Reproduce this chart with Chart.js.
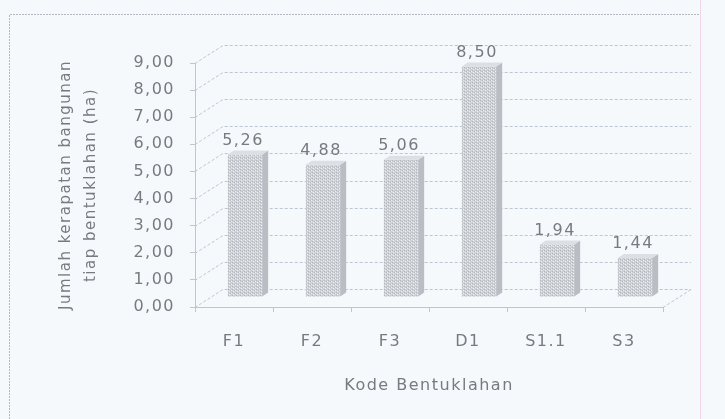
<!DOCTYPE html>
<html>
<head>
<meta charset="utf-8">
<script src="https://cdn.jsdelivr.net/npm/chart.js@4"></script>
<style>
  html, body { margin: 0; padding: 0; background: #f6f9fc; }
  canvas { display: block; }
</style>
</head>
<body>
<canvas id="grafik" width="725" height="419"></canvas>
<script>
const kodeBentuklahan = ['F1', 'F2', 'F3', 'D1', 'S1.1', 'S3'];
const kerapatan = [5.26, 4.88, 5.06, 8.50, 1.94, 1.44];
const judulY = ['Jumlah kerapatan bangunan', 'tiap bentuklahan (ha)'];
const judulX = 'Kode Bentuklahan';
const yMin = 0, yMax = 9, yStep = 1;

const warnaTeks = '#767b81';
const warnaGaris = '#bcc7d2';
// efek 3D: geser dinding belakang, batang, dan sisi batang
const dinding = { dx: 28, dy: -18 };
const geserBatang = { dx: 11, dy: -10 };
const sisi = { dx: 6, dy: -4 };

Chart.defaults.font.family = '"DejaVu Sans", sans-serif';
Chart.defaults.font.size = 16;
Chart.defaults.color = warnaTeks;

function formatKoma(v) {
    return Number(v).toFixed(2).replace('.', ',');
}

const canvas = document.getElementById('grafik');

function buatPola() {
    const c = document.createElement('canvas');
    c.width = 4;
    c.height = 3;
    const g = c.getContext('2d');
    g.fillStyle = '#cdd1d6';
    g.fillRect(0, 0, 4, 3);
    g.fillStyle = '#eef0f2';
    g.fillRect(0, 0, 1, 1);
    g.fillRect(2, 1, 1, 1);
    g.fillStyle = '#b4b9bf';
    g.fillRect(1, 2, 1, 1);
    g.fillRect(3, 0, 1, 1);
    return canvas.getContext('2d').createPattern(c, 'repeat');
}

// teks hasil pindaian terlihat melebar, jadi beri sedikit jarak huruf
function aturSpasi(chart) {
    chart.ctx.letterSpacing = '1.5px';
}

const spasi = {
    id: 'spasi',
    beforeUpdate: aturSpasi,
    beforeLayout: aturSpasi,
    beforeDraw: aturSpasi
};

const latar = {
    id: 'latar',
    beforeDraw(chart) {
        const ctx = chart.ctx;
        ctx.save();
        ctx.fillStyle = '#f6f9fc';
        ctx.fillRect(0, 0, chart.width, chart.height);
        ctx.strokeStyle = '#b3bac2';
        ctx.lineWidth = 1;
        ctx.setLineDash([2, 1]);
        ctx.beginPath();
        ctx.moveTo(9.5, chart.height);
        ctx.lineTo(9.5, 14.5);
        ctx.lineTo(700, 14.5);
        ctx.stroke();
        ctx.setLineDash([]);
        ctx.strokeStyle = '#f1d6ec';
        ctx.beginPath();
        ctx.moveTo(700.5, 0);
        ctx.lineTo(700.5, chart.height);
        ctx.stroke();
        ctx.restore();
    }
};

const dinding3d = {
    id: 'dinding3d',
    beforeDatasetsDraw(chart) {
        const { ctx, chartArea: a, scales: { y } } = chart;
        ctx.save();
        ctx.strokeStyle = warnaGaris;
        ctx.lineWidth = 1;
        ctx.setLineDash([3, 2]);
        y.ticks.forEach(function(t) {
            const py = Math.round(y.getPixelForValue(t.value)) + 0.5;
            ctx.beginPath();
            ctx.moveTo(a.left, py);
            ctx.lineTo(a.left + dinding.dx, py + dinding.dy);
            ctx.lineTo(a.right + dinding.dx, py + dinding.dy);
            ctx.stroke();
        });
        // sisi kanan lantai
        const y0 = Math.round(y.getPixelForValue(yMin)) + 0.5;
        ctx.beginPath();
        ctx.moveTo(a.right, y0);
        ctx.lineTo(a.right + dinding.dx, y0 + dinding.dy);
        ctx.stroke();
        ctx.restore();
    }
};

const batang3d = {
    id: 'batang3d',
    beforeDatasetsDraw(chart) {
        chart.ctx.save();
        chart.ctx.translate(geserBatang.dx, geserBatang.dy);
    },
    afterDatasetsDraw(chart) {
        const ctx = chart.ctx;
        const meta = chart.getDatasetMeta(0);
        meta.data.forEach(function(bar, i) {
            const { x, y, width, base } = bar.getProps(['x', 'y', 'width', 'base'], true);
            const kiri = x - width / 2;
            const kanan = x + width / 2;
            // sisi kanan
            ctx.fillStyle = '#b9bec4';
            ctx.beginPath();
            ctx.moveTo(kanan, y);
            ctx.lineTo(kanan + sisi.dx, y + sisi.dy);
            ctx.lineTo(kanan + sisi.dx, base + sisi.dy);
            ctx.lineTo(kanan, base);
            ctx.closePath();
            ctx.fill();
            // sisi atas
            ctx.fillStyle = '#dcdfe3';
            ctx.beginPath();
            ctx.moveTo(kiri, y);
            ctx.lineTo(kiri + sisi.dx, y + sisi.dy);
            ctx.lineTo(kanan + sisi.dx, y + sisi.dy);
            ctx.lineTo(kanan, y);
            ctx.closePath();
            ctx.fill();
            // label nilai
            ctx.fillStyle = warnaTeks;
            ctx.font = '16px "DejaVu Sans", sans-serif';
            ctx.textAlign = 'center';
            ctx.textBaseline = 'middle';
            ctx.fillText(formatKoma(kerapatan[i]), x - 2, y - 14);
        });
        ctx.restore();
    }
};

new Chart(canvas, {
    type: 'bar',
    data: {
        labels: kodeBentuklahan,
        datasets: [{
            data: kerapatan,
            backgroundColor: buatPola(),
            borderWidth: 0,
            categoryPercentage: 1,
            barPercentage: 0.44
        }]
    },
    options: {
        responsive: false,
        animation: false,
        layout: { padding: { top: 63, right: 62, left: 0, bottom: 0 } },
        plugins: {
            legend: { display: false },
            tooltip: { enabled: false }
        },
        scales: {
            x: {
                grid: { drawOnChartArea: false, drawTicks: true, tickLength: 5, color: warnaGaris },
                border: { color: warnaGaris },
                ticks: { padding: 20, maxRotation: 0 },
                title: { display: true, text: judulX, padding: { top: 0, bottom: 24 } },
                afterFit: function(s) { s.height = 112; }
            },
            y: {
                min: yMin,
                max: yMax,
                ticks: { stepSize: yStep, padding: 15, callback: formatKoma },
                grid: { drawOnChartArea: false, drawTicks: true, tickLength: 5, color: warnaGaris },
                border: { color: warnaGaris },
                title: {
                    display: true,
                    text: judulY,
                    font: { size: 15, lineHeight: 1.7 },
                    padding: { top: 53, bottom: 0 }
                },
                afterFit: function(s) { s.width = 195; }
            }
        }
    },
    plugins: [spasi, latar, dinding3d, batang3d]
});
</script>
</body>
</html>
